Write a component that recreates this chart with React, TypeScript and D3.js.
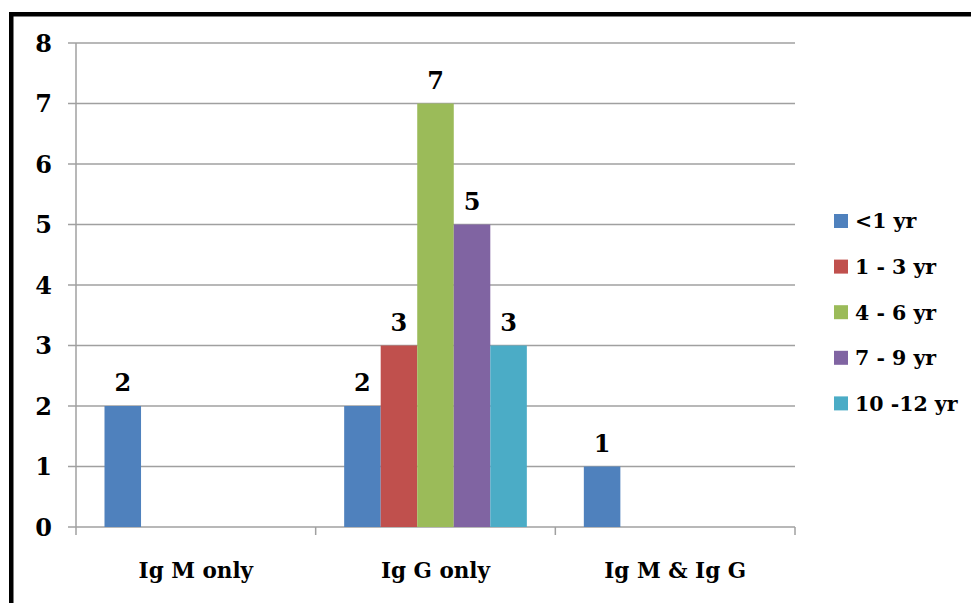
import React from "react";
import * as d3 from "d3";

const categories = ["Ig M only", "Ig G only", "Ig M & Ig G"];
const seriesNames = ["<1 yr", "1 - 3 yr", "4 - 6 yr", "7 - 9 yr", "10 -12 yr"];
const seriesColors = ["#4F81BD", "#C0504D", "#9BBB59", "#8064A2", "#4BACC6"];
// values[series][category]; null = no bar
const values: (number | null)[][] = [
  [2, 2, 1],
  [null, 3, null],
  [null, 7, null],
  [null, 5, null],
  [null, 3, null],
];
const yTicks = [0, 1, 2, 3, 4, 5, 6, 7, 8];

const W = 971;
const H = 603;
const plot = { left: 76, right: 795, top: 43, bottom: 527 };
const textStyle: React.CSSProperties = {
  fontFamily: '"DejaVu Serif", serif',
  fontWeight: "bold",
};

export default function App() {
  const x0 = d3.scaleBand<string>().domain(categories).range([plot.left, plot.right]).padding(0);
  const inner = d3
    .scaleBand<string>()
    .domain(seriesNames)
    .range([0, x0.bandwidth()])
    .paddingOuter(0.78)
    .paddingInner(0);
  const y = d3.scaleLinear().domain([0, 8]).range([plot.bottom, plot.top]);
  const grid = "#A0A0A0";

  const boundaries = [...categories.map((c) => x0(c)!), plot.right];

  return (
    <svg
      width={W}
      height={H}
      style={{ position: "absolute", left: 0, top: 0, background: "#fff" }}
    >
      <rect x={0} y={0} width={W} height={H} fill="#fff" />
      {yTicks.map((t) => (
        <line key={t} x1={plot.left - 8} x2={plot.right} y1={y(t)} y2={y(t)} stroke={grid} strokeWidth={1.5} />
      ))}
      <line x1={plot.left} x2={plot.left} y1={plot.top} y2={plot.bottom} stroke={grid} strokeWidth={1.5} />
      {boundaries.map((b, i) => (
        <line key={i} x1={b} x2={b} y1={plot.bottom} y2={plot.bottom + 8} stroke={grid} strokeWidth={1.5} />
      ))}
      {yTicks.map((t) => (
        <text key={t} x={52} y={y(t)} dy="0.36em" textAnchor="end" fontSize={24} style={textStyle}>
          {t}
        </text>
      ))}
      {values.map((row, si) =>
        row.map((v, ci) => {
          if (v === null) return null;
          const bx = x0(categories[ci])! + inner(seriesNames[si])!;
          return (
            <g key={`${si}-${ci}`}>
              <rect
                x={bx}
                y={y(v)}
                width={inner.bandwidth()}
                height={y(0) - y(v)}
                fill={seriesColors[si]}
              />
              <text
                x={bx + inner.bandwidth() / 2}
                y={y(v) - 15}
                textAnchor="middle"
                fontSize={24}
                style={textStyle}
              >
                {v}
              </text>
            </g>
          );
        })
      )}
      {categories.map((c) => (
        <text
          key={c}
          x={x0(c)! + x0.bandwidth() / 2}
          y={578}
          textAnchor="middle"
          fontSize={21.5}
          style={textStyle}
        >
          {c}
        </text>
      ))}
      {seriesNames.map((s, i) => {
        const cy = 221 + i * 45.6;
        return (
          <g key={s}>
            <rect x={834} y={cy - 7} width={14} height={14} fill={seriesColors[i]} />
            <text x={855} y={cy} dy="0.36em" fontSize={20.5} style={textStyle}>
              {s}
            </text>
          </g>
        );
      })}
      <rect x={11.25} y={14.25} width={W + 20} height={H + 20} fill="none" stroke="#000" strokeWidth={4.5} />
    </svg>
  );
}
